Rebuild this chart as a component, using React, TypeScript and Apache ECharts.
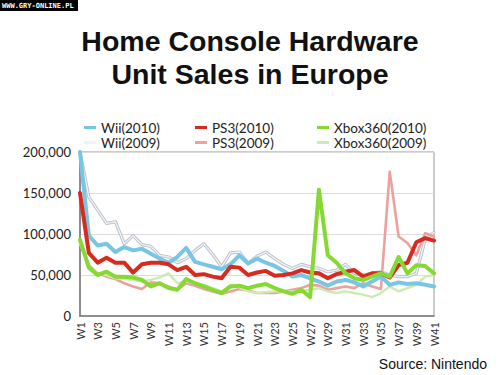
import React, { useEffect, useRef } from "react";
import * as echarts from "echarts";

const weeks: string[] = Array.from({ length: 41 }, (_, i) => "W" + (i + 1));

const wii2010 = [200, 98, 86, 88, 78, 84, 80, 82, 76, 70, 65, 72, 83, 66, 63, 60, 57, 63, 74, 64, 70, 65, 61, 55, 48, 50, 46, 42, 37, 42, 44, 41, 36, 42, 48, 38, 41, 39, 40, 38, 36];
const wii2009 = [200, 145, 129, 113, 115, 88, 98, 87, 85, 74, 72, 65, 70, 80, 88, 75, 60, 77, 78, 64, 73, 78, 70, 63, 58, 63, 60, 58, 54, 56, 63, 52, 50, 52, 54, 50, 48, 48, 52, 93, 102];
const ps32010 = [150, 77, 65, 71, 65, 65, 53, 63, 65, 65, 63, 56, 60, 50, 51, 48, 46, 60, 59, 50, 53, 55, 49, 50, 52, 56, 53, 52, 46, 51, 54, 56, 48, 52, 52, 47, 62, 65, 90, 95, 92];
const ps32009 = [92, 62, 52, 48, 45, 40, 36, 33, 41, 40, 36, 32, 40, 37, 33, 30, 27, 30, 33, 31, 28, 28, 28, 30, 32, 34, 38, 37, 32, 34, 36, 34, 40, 36, 33, 176, 97, 89, 74, 101, 97];
const xbox2010 = [93, 59, 50, 54, 48, 48, 47, 44, 36, 40, 34, 32, 45, 40, 36, 32, 28, 36, 37, 34, 37, 39, 34, 30, 27, 32, 23, 154, 74, 65, 52, 46, 44, 48, 52, 48, 72, 52, 62, 61, 52];
const xbox2009 = [88, 60, 52, 50, 46, 45, 44, 42, 44, 47, 52, 40, 42, 40, 38, 34, 30, 38, 35, 30, 28, 29, 30, 30, 30, 31, 32, 34, 30, 28, 30, 28, 26, 23, 28, 36, 30, 34, 38, 48, 50];

const yTicks = [0, 50000, 100000, 150000, 200000];

const k = (a: number[]) => a.map((v) => v * 1000);

export default function App() {
  const ref = useRef<HTMLDivElement>(null);
  useEffect(() => {
    document.body.style.margin = "0";
    const chart = echarts.init(ref.current!, null, { renderer: "svg" });
    const legendFont = { fontFamily: "Lato", fontSize: 13.5, color: "#222", lineHeight: 15 };
    const legendBase = {
      orient: "vertical" as const,
      top: 115,
      itemWidth: 12,
      itemHeight: 3,
      itemGap: 0,
      icon: "rect",
      textStyle: legendFont,
      selectedMode: false,
    };
    const line = (name: string, data: number[], color: string, width: number, z: number) => ({
      name,
      type: "line",
      data: k(data),
      symbol: "none",
      z,
      lineStyle: { color, width, cap: "round", join: "round" },
      itemStyle: { color },
    });
    chart.setOption({
      animation: false,
      backgroundColor: "#fff",
      title: {
        text: "Home Console Hardware\nUnit Sales in Europe",
        left: "center",
        top: 19,
        textStyle: {
          fontFamily: "Liberation Sans",
          fontWeight: "bold",
          fontSize: 28.5,
          lineHeight: 33,
          color: "#111",
        },
      },
      legend: [
        { ...legendBase, left: 79, data: ["Wii(2010)", "Wii(2009)"] },
        { ...legendBase, left: 190, data: ["PS3(2010)", "PS3(2009)"] },
        { ...legendBase, left: 312, data: ["Xbox360(2010)", "Xbox360(2009)"] },
      ],
      grid: {
        left: 80,
        right: 66,
        top: 152,
        bottom: 59,
        show: true,
        borderColor: "#999",
        borderWidth: 1,
      },
      xAxis: {
        type: "category",
        data: weeks,
        boundaryGap: false,
        axisLine: { lineStyle: { color: "#777", width: 1.5 } },
        axisTick: { show: false },
        axisLabel: {
          rotate: 90,
          interval: 1,
          fontFamily: "Lato",
          fontSize: 11,
          color: "#333",
          margin: 6,
        },
      },
      yAxis: {
        type: "value",
        min: yTicks[0],
        max: yTicks[yTicks.length - 1],
        interval: 50000,
        axisLine: { show: true, lineStyle: { color: "#777", width: 1.5 } },
        axisTick: { show: false },
        splitLine: { lineStyle: { color: "#dcdcdc", width: 1 } },
        axisLabel: {
          fontFamily: "Lato",
          fontSize: 13,
          color: "#222",
          margin: 9,
          formatter: (v: number) => v.toLocaleString("en-US"),
        },
      },
      series: [
        { ...line("", wii2009, "#b9c0ca", 3.2, 1), silent: true, legendHoverLink: false },
        line("Wii(2009)", wii2009, "#eef1f5", 1.4, 2),
        line("PS3(2009)", ps32009, "#eba19e", 2.6, 3),
        line("Xbox360(2009)", xbox2009, "#cdebb0", 2.4, 3),
        line("Wii(2010)", wii2010, "#78c6e4", 4, 4),
        line("PS3(2010)", ps32010, "#d62b20", 4, 5),
        line("Xbox360(2010)", xbox2010, "#86d832", 4, 6),
      ],
      graphic: [
        { type: "rect", left: 0, top: 0, shape: { width: 78, height: 11 }, style: { fill: "#000" } },
        {
          type: "text",
          left: 2,
          top: 2,
          style: { text: "WWW.GRY-ONLINE.PL", fill: "#fff", font: "bold 7px 'DejaVu Sans Mono'" },
        },
        {
          type: "text",
          right: 13,
          top: 357,
          style: { text: "Source: Nintendo", fill: "#111", font: "14px 'Liberation Sans'" },
        },
      ],
    });
    return () => chart.dispose();
  }, []);
  return <div ref={ref} style={{ width: 500, height: 375 }} />;
}
